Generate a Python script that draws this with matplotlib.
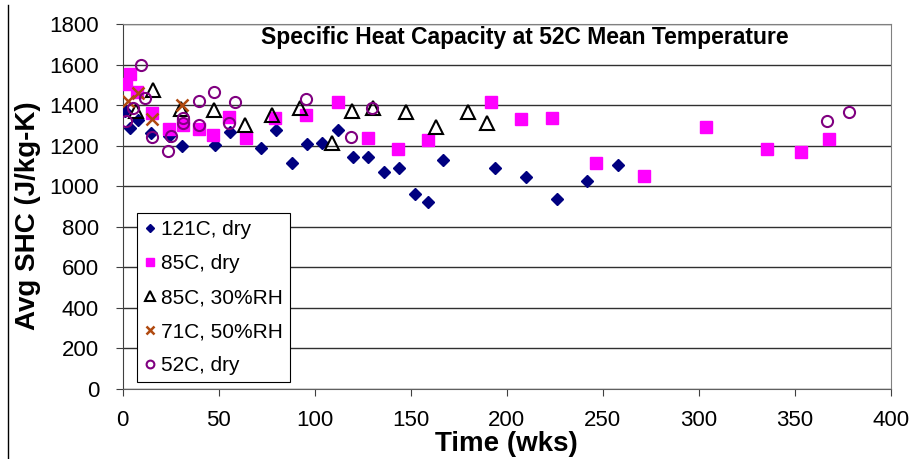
import matplotlib.pyplot as plt
from matplotlib.lines import Line2D

plt.rcParams['font.family'] = ['Liberation Sans', 'DejaVu Sans']

# 121C, dry
x_121_dry = [1, 4, 8, 15, 24, 31, 48, 56, 72, 80, 88, 96, 104, 112, 120, 128, 136,
             144, 152, 159, 167, 194, 210, 226, 242, 258]
y_121_dry = [1372, 1289, 1327, 1262, 1250, 1198, 1203, 1268, 1188, 1277, 1115, 1208,
             1215, 1277, 1142, 1145, 1072, 1090, 964, 920, 1128, 1090, 1044, 936,
             1026, 1105]

# 85C, dry
x_85_dry = [1.5, 4, 7.4, 15.5, 24, 31.5, 40, 47, 55.5, 64, 79.5, 95.5, 112, 128,
            143.5, 159, 192, 207.5, 223.5, 246.5, 271.5, 304, 335.5, 353.5, 368]
y_85_dry = [1504, 1554, 1463, 1362, 1281, 1300, 1281, 1251, 1340, 1239, 1335, 1350,
            1416, 1236, 1185, 1228, 1416, 1330, 1335, 1115, 1049, 1292, 1185, 1171,
            1231]

# 85C, 30%RH
x_85_rh = [7, 15.6, 30.6, 47.5, 63.7, 77.6, 92.3, 108.8, 119.6, 130.5, 147.6, 163.4,
           179.7, 189.6]
y_85_rh = [1372, 1476, 1380, 1375, 1304, 1350, 1384, 1215, 1372, 1388, 1364, 1294,
           1364, 1314]

# 71C, 50%RH
x_71_rh = [3, 7.8, 15.3, 31]
y_71_rh = [1421, 1460, 1330, 1402]

# 52C, dry
x_52_dry = [1.7, 5.5, 9.6, 11.5, 15.4, 23.8, 25.4, 31.3, 31.3, 39.7, 39.7, 47.5,
            55.5, 58.3, 95.5, 118.7, 129.7, 366.8, 378.4]
y_52_dry = [1324, 1384, 1599, 1433, 1241, 1173, 1246, 1339, 1314, 1423, 1304, 1464,
            1314, 1414, 1430, 1244, 1388, 1320, 1364]

fig = plt.figure(figsize=(9.1, 4.59), dpi=100)
ax = fig.add_axes([0.1348, 0.1525, 0.844, 0.795])

ax.plot(x_121_dry, y_121_dry, 'D', ls='none', ms=5.8, color='#000080',
        label='121C, dry', zorder=3)
ax.plot(x_85_dry, y_85_dry, 's', ls='none', ms=8, color='#FF00FF',
        label='85C, dry', zorder=3)
ax.plot(x_85_rh, y_85_rh, '^', ls='none', ms=10, mfc='none', mec='black', mew=1.5,
        label='85C, 30%RH', zorder=3)
ax.plot(x_71_rh, y_71_rh, 'x', ls='none', ms=8, mec='#B04A10', mew=1.8,
        label='71C, 50%RH', zorder=3)
ax.plot(x_52_dry, y_52_dry, 'o', ls='none', ms=8, mfc='none', mec='#800080', mew=1.5,
        label='52C, dry', zorder=3)

ax.set_xlim(0, 400)
ax.set_ylim(0, 1800)
ax.set_xticks(range(0, 401, 50))
ax.set_yticks(range(0, 1801, 200))
ax.grid(axis='y', color='#303030', lw=1)
ax.set_axisbelow(True)
ax.tick_params(labelsize=16, direction='out', length=5, color='#404040')
ax.tick_params(axis='x', pad=10)
ax.tick_params(axis='y', pad=12)
for side in ['top', 'right', 'bottom']:
    ax.spines[side].set_color('#808080')
ax.spines['left'].set_color('#404040')
ax.spines['bottom'].set_color('#606060')

ax.set_xlabel('Time (wks)', fontsize=20, fontweight='bold', labelpad=0)
ax.set_ylabel('Avg SHC (J/kg-K)', fontsize=20, fontweight='bold')
ax.yaxis.set_label_coords(-0.106, 0.474)
ax.text(0.524, 0.962, 'Specific Heat Capacity at 52C Mean Temperature',
        transform=ax.transAxes, ha='center', va='center', fontsize=16.5,
        fontweight='bold')

leg = ax.legend(loc='upper left', bbox_to_anchor=(0.019, 0.483), borderaxespad=0,
                fontsize=15, fancybox=False, edgecolor='black', framealpha=1,
                handlelength=0.5, handletextpad=0.3, labelspacing=0.72,
                markerscale=0.7, borderpad=0.35)
leg.get_frame().set_linewidth(0.8)

fig.add_artist(Line2D([8 / 910, 8 / 910], [0, 0.99], color='black', lw=1))

fig.savefig('out.png', dpi=100)
